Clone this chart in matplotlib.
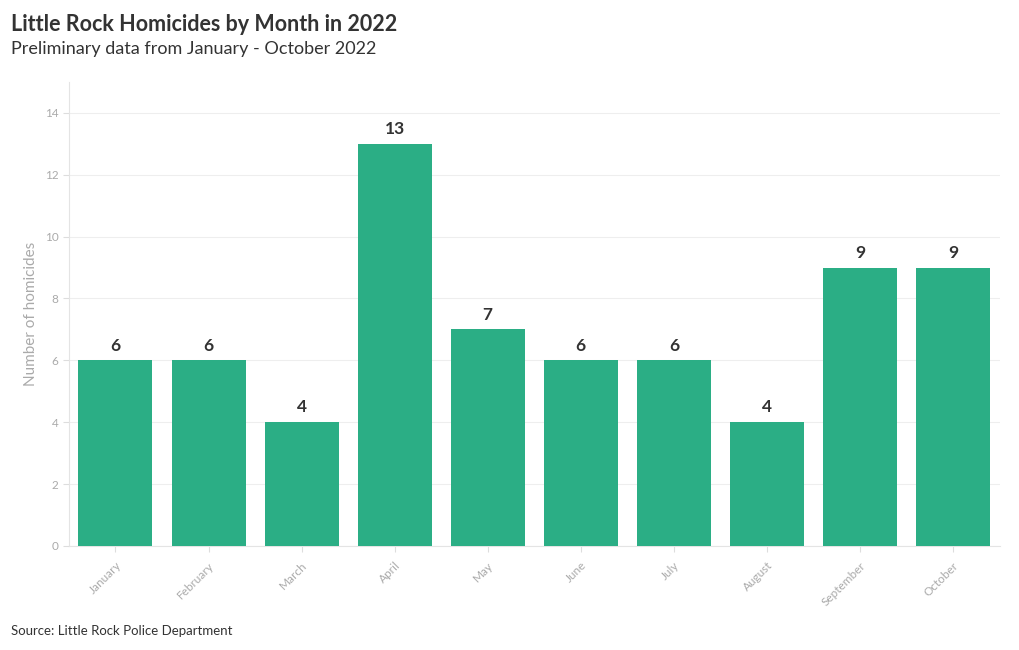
import matplotlib
matplotlib.use("Agg")
import matplotlib.pyplot as plt
import numpy as np

months = ["January", "February", "March", "April", "May", "June",
          "July", "August", "September", "October"]
homicides = [6, 6, 4, 13, 7, 6, 6, 4, 9, 9]
y_ticks = [0, 2, 4, 6, 8, 10, 12, 14]

plt.rcParams['font.family'] = ['Lato', 'DejaVu Sans']

fig = plt.figure(figsize=(10.2, 6.5), dpi=100)
ax = fig.add_axes([0.0676, 0.16, 0.9124, 0.714])

x = np.arange(len(months))
ax.bar(x, homicides, width=0.795, color="#2bae85", zorder=3)

for xi, v in zip(x, homicides):
    ax.text(xi, v + 0.22, str(v), ha="center", va="bottom",
            fontsize=12.5, fontweight="bold", color="#333333")

ax.set_xlim(-0.5, 9.5)
ax.set_ylim(0, 15)
ax.set_yticks(y_ticks)
ax.set_xticks(x)
ax.set_xticklabels(months, rotation=45, ha="right", rotation_mode="anchor")
ax.tick_params(axis="both", colors="#dddddd", labelcolor="#aaaaaa",
               labelsize=8.5, length=4, width=0.8)
ax.tick_params(axis="x", pad=6)
ax.grid(axis="y", color="#eeeeee", linewidth=0.8, zorder=0)
for s in ["top", "right"]:
    ax.spines[s].set_visible(False)
for s in ["left", "bottom"]:
    ax.spines[s].set_color("#e4e4e4")
    ax.spines[s].set_linewidth(0.8)
ax.set_ylabel("Number of homicides", fontsize=11, color="#aaaaaa", labelpad=5)

fig.text(0.011, 0.962, "Little Rock Homicides by Month in 2022", fontsize=15.5,
         fontweight="bold", color="#333333", va="center")
fig.text(0.011, 0.925, "Preliminary data from January - October 2022", fontsize=13,
         color="#333333", va="center")
fig.text(0.011, 0.029, "Source: Little Rock Police Department", fontsize=9.5,
         color="#333333", va="center")

fig.savefig("out.png", dpi=100, facecolor="white")
